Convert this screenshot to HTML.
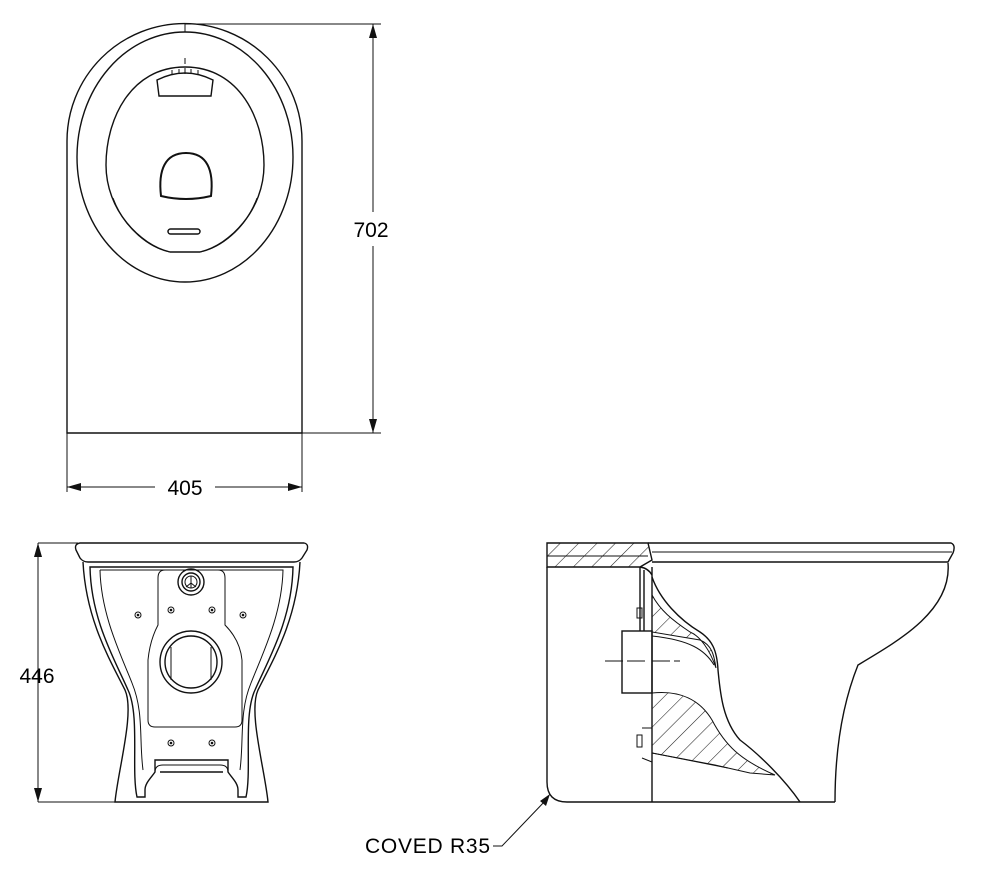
<!DOCTYPE html>
<html><head><style>html,body{margin:0;padding:0;background:#fff}svg{display:block}</style></head>
<body>
<svg width="999" height="879" viewBox="0 0 999 879" xmlns="http://www.w3.org/2000/svg" font-family="Liberation Sans, sans-serif">
<defs>
<pattern id="h" width="13" height="13" patternUnits="userSpaceOnUse" patternTransform="rotate(45)">
<line x1="0" y1="0" x2="0" y2="13" stroke="#222" stroke-width="1.1"/></pattern>
</defs>
<g fill="none" stroke="#111" stroke-width="1.4">
<!-- TOP VIEW -->
<path d="M67,433 L67,141 A117.5,117.5 0 0 1 302,141 L302,433 Z"/>
<ellipse cx="185" cy="157" rx="108" ry="125"/>
<path d="M185,67 C240,67 264,120 264,165 C264,210 230,245 200,252 L170,252 C140,245 106,210 106,165 C106,120 130,67 185,67 Z"/>
<path d="M113,198 C125,230 150,248 170,252 M257,198 C245,230 220,248 200,252" stroke-width="1"/>
<line x1="185" y1="24" x2="185" y2="32" stroke-width="1"/>
<line x1="185" y1="58" x2="185" y2="64" stroke-width="1"/>
<path d="M159,96 L157,80 Q185,66 213,80 L211,96 Z"/>
<path d="M172,70v5M179,69v5M185,68v6M191,69v5M198,70v5" stroke-width="1"/>
<path d="M161,196 C158,170 165,153 186,153 C207,153 214,170 211,196 Q186,202 161,196 Z" stroke-width="2"/>
<rect x="168" y="229" width="32" height="5" rx="2.5" stroke-width="1.5"/>
<!-- 405 dim -->
<path d="M67,433 V492 M302,433 V492 M67,487 H155 M215,487 H302" stroke-width="1"/>
<!-- 702 dim -->
<path d="M185,24 H381 M302,433 H381 M373,24 V212 M373,246 V433" stroke-width="1"/>
</g>
<g fill="#111">
<path d="M67,487 l14,-4 v8z M302,487 l-14,-4 v8z"/>
<path d="M373,24 l-4,14 h8z M373,433 l-4,-14 h8z"/>
<path d="M38,543 l-4,14 h8z M38,802 l-4,-14 h8z"/>
<path d="M550,794 l-4,12 l-6,-5z"/>
</g>
<text x="185" y="495" font-size="21" text-anchor="middle">405</text>
<text x="371" y="237" font-size="21" text-anchor="middle">702</text>
<text x="37" y="683" font-size="21" text-anchor="middle">446</text>
<text x="365" y="853" font-size="21" textLength="125">COVED R35</text>

<g fill="none" stroke="#111" stroke-width="1.4">
<!-- FRONT VIEW -->
<path d="M38,543 V802 M38,543 H78 M38,802 H115" stroke-width="1"/>
<path d="M80,543 H304 Q309,544 307,550 L302,558 Q299,562 294,562 H88 Q83,562 80,558 L76,550 Q74,544 80,543 Z"/>
<path d="M83,562 C86,620 110,660 125,690 C135,712 118,770 115,802 H268 C265,770 248,712 258,690 C273,660 297,620 300,562"/>
<path d="M90,567 H293 C292,620 268,660 255,690 C243,715 252,770 246,797 H238 V790 C238,783 232,778 228,772 L228,760 H155 L155,772 C151,778 145,783 145,790 V797 H137 C131,770 140,715 128,690 C115,660 91,620 90,567 Z"/>
<path d="M100,570 H283 C282,615 262,655 251,683 C239,712 244,740 240,770" stroke-width="1"/>
<path d="M100,570 C101,615 121,655 132,683 C144,712 139,740 143,770" stroke-width="1"/>
<path d="M165,570 H218 Q225,570 225,578 V625 Q240,640 242,660 V720 Q242,727 235,727 H155 Q148,727 148,720 V660 Q150,640 158,625 V578 Q158,570 165,570 Z" stroke-width="1"/>
<circle cx="191" cy="662" r="31"/>
<circle cx="191" cy="662" r="26"/>
<path d="M171,647 V680 M211,647 V680" stroke-width="1"/>
<circle cx="191" cy="582" r="13"/>
<circle cx="191" cy="582" r="9"/>
<circle cx="191" cy="582" r="6" stroke-width="1"/>
<path d="M191,576 V588 M191,583 L186,587 M191,583 L196,587" stroke-width="1"/>
<path d="M155,772 Q155,765 163,765 H220 Q228,765 228,772" stroke-width="1"/>
<line x1="160" y1="772" x2="223" y2="772" stroke-width="1.5"/>
<g stroke-width="1"><circle cx="138" cy="615" r="3"/><circle cx="171" cy="610" r="3"/><circle cx="212" cy="610" r="3"/><circle cx="243" cy="615" r="3"/><circle cx="171" cy="743" r="3"/><circle cx="212" cy="743" r="3"/></g>
<g fill="#111" stroke="none"><circle cx="138" cy="615" r="1.3"/><circle cx="171" cy="610" r="1.3"/><circle cx="212" cy="610" r="1.3"/><circle cx="243" cy="615" r="1.3"/><circle cx="171" cy="743" r="1.3"/><circle cx="212" cy="743" r="1.3"/></g>

<!-- SIDE VIEW -->
<path d="M547,543 H648 L652,560 L640,567 H547 Z" fill="url(#h)"/>
<line x1="547" y1="556" x2="648" y2="556" stroke-width="1"/>
<path d="M648,543 H951 Q956,545 953,553 L948,562 H652"/>
<line x1="652" y1="552" x2="952" y2="552" stroke-width="1"/>
<path d="M547,567 V782 Q547,802 567,802 H835"/>
<path d="M948,563 C952,610 900,640 858,665 C840,710 835,760 835,802"/>
<line x1="652" y1="567" x2="652" y2="802"/>
<path d="M640,567 V631 M644,570 V631 M640,567 Q648,568 652,575"/>
<rect x="622" y="631" width="30" height="62"/>
<path d="M605,661 H647 M652,661 H680" stroke-width="1" stroke-dasharray="18,4"/>
<path d="M652,577 C660,600 680,620 700,632 C712,640 717,650 718,670 C720,690 722,720 740,740 C760,755 785,780 800,802"/>
<path d="M652,636 C690,640 705,650 714,665" stroke-width="1"/>
<path d="M652,612 L652,632 L700,640 C712,645 714,655 716,668 C710,650 700,636 690,632 C672,620 660,610 652,595 Z" fill="url(#h)" stroke-width="1"/>
<path d="M652,693 C680,690 700,700 712,720 C725,745 740,760 775,775 L750,773 L728,768 L652,753 Z" fill="url(#h)" stroke-width="1"/>
<path d="M652,753 L715,765 L728,768" stroke-width="1"/>
<rect x="637" y="608" width="5" height="10" stroke-width="1"/>
<rect x="637" y="735" width="5" height="12" stroke-width="1"/>
<path d="M642,728 L652,728 M642,758 L652,762" stroke-width="1"/>
<!-- leader -->
<path d="M493,846 H502 L546,800" stroke-width="1"/>
</g>
</svg>
</body></html>
